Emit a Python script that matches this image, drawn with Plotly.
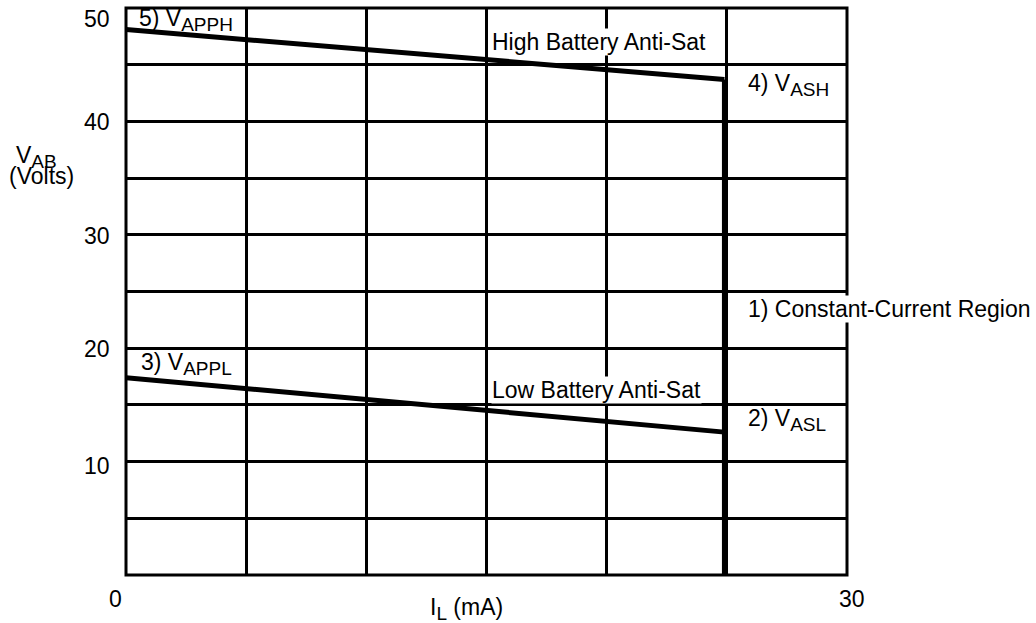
import plotly.graph_objects as go

# Data
i_high = [0, 24.9]
v_high = [48.1, 43.7]
i_low = [0, 24.9]
v_low = [17.4, 12.6]
i_cc = [24.9, 24.9]
v_cc = [43.7, 0]

y_tick_vals = [10, 20, 30, 40, 50]
y_tick_shift = [-4, -1, -1, -1, -11]
x_tick_vals = [0, 30]
x_tick_shift = [-11, 5]

FONT = "Liberation Sans, Arial, sans-serif"
FS = 23
F = dict(family=FONT, size=FS, color="black")


def sub(s):
    return '<sub><span style="font-size:19px">' + s + '</span></sub>'


fig = go.Figure()
for xs, ys in [(i_high, v_high), (i_low, v_low), (i_cc, v_cc)]:
    fig.add_trace(go.Scatter(x=xs, y=ys, mode="lines",
                             line=dict(color="black", width=5),
                             showlegend=False, hoverinfo="skip", cliponaxis=False))

fig.update_layout(
    width=1036, height=623,
    margin=dict(l=126, r=189, t=8, b=48),
    paper_bgcolor="white", plot_bgcolor="white",
    font=F,
    xaxis=dict(range=[0, 30], dtick=5, showgrid=True, gridcolor="black", gridwidth=3,
               showticklabels=False, zeroline=False, showline=False, ticks=""),
    yaxis=dict(range=[0, 50], dtick=5, showgrid=True, gridcolor="black", gridwidth=3,
               showticklabels=False, zeroline=False, showline=False, ticks=""),
)
fig.add_shape(type="rect", xref="paper", yref="paper", x0=0, x1=1, y0=0, y1=1,
              line=dict(color="black", width=3), layer="above")

ann = []
for v, s in zip(y_tick_vals, y_tick_shift):
    ann.append(dict(x=-0.0194, xref="paper", y=v, yref="y", text=str(v), font=F,
                    xanchor="right", yanchor="middle", yshift=s, showarrow=False))
for v, s in zip(x_tick_vals, x_tick_shift):
    ann.append(dict(x=v, xref="x", y=-0.042, yref="paper", text=str(v), font=F,
                    xanchor="center", yanchor="middle", xshift=s, showarrow=False))

labels = [
    ("5) V" + sub("APPH"), 0.5, 48.97, False),
    ("High Battery Anti-Sat", 15.19, 47.0, True),
    ("4) V" + sub("ASH"), 25.84, 43.2, False),
    ("1) Constant-Current Region", 25.84, 23.47, True),
    ("3) V" + sub("APPL"), 0.58, 18.6, False),
    ("Low Battery Anti-Sat", 15.19, 16.3, True),
    ("2) V" + sub("ASL"), 25.84, 13.68, False),
]
for t, x, y, bg in labels:
    d = dict(x=x, y=y, xref="x", yref="y", text=t, xanchor="left", yanchor="middle",
             showarrow=False, borderpad=0, font=F)
    if bg:
        d["bgcolor"] = "white"
    ann.append(d)

ann += [
    dict(x=-0.124, xref="paper", y=0.738, yref="paper", text="V" + sub("AB"), font=F,
         xanchor="center", yanchor="middle", showarrow=False),
    dict(x=-0.117, xref="paper", y=0.703, yref="paper", text="(Volts)", font=F,
         xanchor="center", yanchor="middle", showarrow=False),
    dict(x=14.17, xref="x", y=-0.060, yref="paper", text="I" + sub("L") + " (mA)", font=F,
         xanchor="center", yanchor="middle", showarrow=False),
]
fig.update_layout(annotations=ann)

fig.write_html("out.html", config={"displayModeBar": False},
               post_script="document.body.style.margin='0';")
